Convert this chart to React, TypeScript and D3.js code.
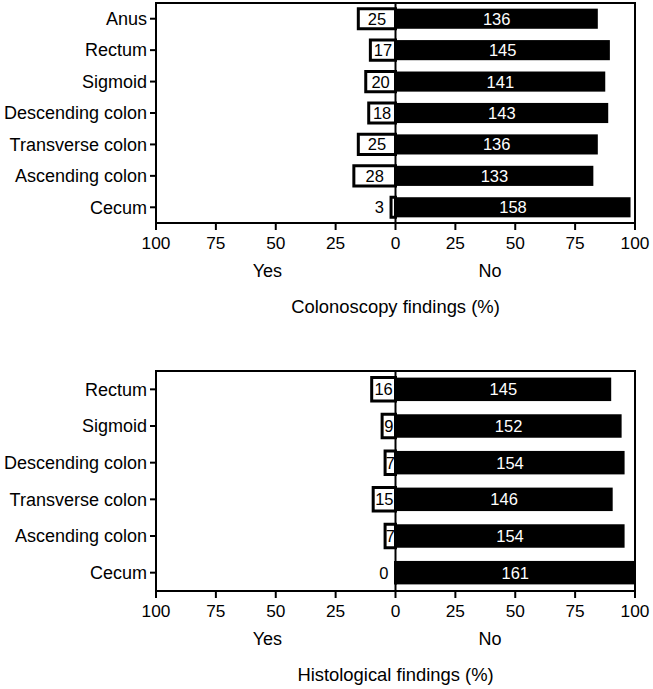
import React from "react";
import * as d3 from "d3";

const colonCategories = ["Anus", "Rectum", "Sigmoid", "Descending colon", "Transverse colon", "Ascending colon", "Cecum"];
const colonYes = [25, 17, 20, 18, 25, 28, 3];
const colonNo = [136, 145, 141, 143, 136, 133, 158];

const histoCategories = ["Rectum", "Sigmoid", "Descending colon", "Transverse colon", "Ascending colon", "Cecum"];
const histoYes = [16, 9, 7, 15, 7, 0];
const histoNo = [145, 152, 154, 146, 154, 161];

const tickValues = [-100, -75, -50, -25, 0, 25, 50, 75, 100];

const FONT = "'Liberation Sans', Arial, Helvetica, sans-serif";

type PanelProps = {
  categories: string[];
  yes: number[];
  no: number[];
  top: number;
  bottom: number;
  title: string;
};

function Panel({ categories, yes, no, top, bottom, title }: PanelProps) {
  const x = d3.scaleLinear().domain([-100, 100]).range([156, 635]);
  const y = d3.scaleBand<string>().domain(categories).range([top, bottom]).paddingInner(0.36).paddingOuter(0.18);
  const bw = y.bandwidth();
  const x0 = x(0);
  return (
    <g fontFamily={FONT}>
      {categories.map((c, i) => {
        const total = yes[i] + no[i];
        const yp = (yes[i] / total) * 100;
        const np = (no[i] / total) * 100;
        const yy = y(c) as number;
        const xl = x(-yp);
        const w = x0 - xl;
        const lblW = String(yes[i]).length * 9.2;
        const inside = w >= lblW + 1;
        return (
          <g key={c}>
            <rect x={x0} y={yy} width={x(np) - x0} height={bw} fill="#000" />
            <path d={`M${x0},${yy}H${xl}V${yy + bw}H${x0}Z`} fill="#fff" stroke="#000" strokeWidth={3} />
            <text x={(x0 + x(np)) / 2} y={yy + bw / 2} dy="0.36em" textAnchor="middle" fill="#fff" fontSize={16.5}>
              {no[i]}
            </text>
            <text
              x={inside ? (xl + x0) / 2 : xl - 7}
              y={yy + bw / 2}
              dy="0.36em"
              textAnchor={inside ? "middle" : "end"}
              fill="#000"
              fontSize={16.5}
            >
              {yes[i]}
            </text>
            <line x1={x(-100) - 6} x2={x(-100)} y1={yy + bw / 2} y2={yy + bw / 2} stroke="#000" strokeWidth={2} />
            <text x={x(-100) - 9} y={yy + bw / 2} dy="0.35em" textAnchor="end" fontSize={18} fill="#000">
              {c}
            </text>
          </g>
        );
      })}
      <line x1={x0} x2={x0} y1={top} y2={bottom} stroke="#000" strokeWidth={2} />
      <path d={`M${x(-100)},${bottom}V${top}H${x(100)}V${bottom}Z`} fill="none" stroke="#000" strokeWidth={2} />
      {tickValues.map((t) => (
        <g key={t}>
          <line x1={x(t)} x2={x(t)} y1={bottom} y2={bottom + 7} stroke="#000" strokeWidth={2} />
          <text x={x(t)} y={bottom + 26} textAnchor="middle" fontSize={17.3} fill="#000">
            {Math.abs(t)}
          </text>
        </g>
      ))}
      <text x={x(-53.5)} y={bottom + 54} textAnchor="middle" fontSize={18} fill="#000">Yes</text>
      <text x={x(39.5)} y={bottom + 54} textAnchor="middle" fontSize={18} fill="#000">No</text>
      <text x={x0} y={bottom + 90} textAnchor="middle" fontSize={18.4} fill="#000">{title}</text>
    </g>
  );
}

export default function App() {
  return (
    <svg width={653} height={689} style={{ position: "absolute", left: 0, top: 0, background: "#fff" }}>
      <rect width={653} height={689} fill="#fff" />
      <Panel categories={colonCategories} yes={colonYes} no={colonNo} top={3} bottom={223} title="Colonoscopy findings (%)" />
      <Panel categories={histoCategories} yes={histoYes} no={histoNo} top={371} bottom={591} title="Histological findings (%)" />
    </svg>
  );
}
